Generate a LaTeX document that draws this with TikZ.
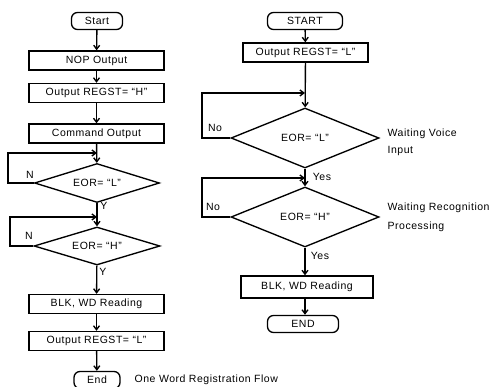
\documentclass[tikz,border=0pt]{standalone}
\usepackage{fontspec}
\setmainfont{Liberation Sans}[LetterSpace=5]
\usetikzlibrary{shapes.geometric,arrows.meta}
\begin{document}
\begin{tikzpicture}[x=1pt,y=-1pt,
  font=\fontsize{10.5}{12}\selectfont,
  line width=1.35pt,
  proc/.style={draw, minimum width=135pt, minimum height=19pt, inner sep=0pt},
  term/.style={draw, rounded corners=6pt, minimum height=17pt, inner sep=0pt},
  dec/.style={draw, diamond, inner sep=0pt},
  arr/.style={-{Straight Barb[length=4pt,width=6pt]}},
  lbl/.style={inner sep=0pt},
  side/.style={inner sep=0pt, anchor=west}]
\useasboundingbox (0,0) rectangle (499,387);
% ---------- left flow ----------
\node[term, minimum width=51pt] (s) at (97,21) {Start};
\node[proc] (nop) at (96.5,60.5) {NOP Output};
\node[proc] (regh) at (96.5,93) {Output REGST= “H”};
\node[proc] (cmd) at (96.5,133.5) {Command Output};
\node[dec, aspect=3.2, minimum width=125pt, minimum height=39pt] (d1) at (97,183) {EOR= “L”};
\node[dec, aspect=3.3, minimum width=126pt, minimum height=38pt] (d2) at (97,246) {EOR= “H”};
\node[proc] (blk) at (96.5,304) {BLK, WD Reading};
\node[proc] (regl) at (96.5,341) {Output REGST= “L”};
\node[term, minimum width=46pt] (e) at (97,380) {End};
\coordinate (j1) at (97,153);
\coordinate (l1) at (8,153);
\coordinate (j2) at (97,217);
\coordinate (l2) at (10,217);
\draw[arr] (s) -- (nop);
\draw[arr] (nop) -- (regh);
\draw[arr] (regh) -- (cmd);
\draw[arr] (cmd) -- (d1);
\draw[arr] (d1.west) -| (l1) -- (j1);
\draw[arr] (d1) -- (d2);
\draw[arr] (d2.west) -| (l2) -- (j2);
\draw[arr] (d2) -- (blk);
\draw[arr] (blk) -- (regl);
\draw[arr] (regl) -- (e);
\node[lbl] (n1) at (30,175) {N};
\node[lbl] (y1) at (104,206) {Y};
\node[lbl] (n2) at (29,236) {N};
\node[lbl] (y2) at (103,272) {Y};
\node[side] (cap) at (134,380) {One Word Registration Flow};
% ---------- right flow ----------
\node[term, minimum width=75pt] (S) at (305,21) {START};
\node[proc, minimum width=125pt] (rl) at (305.5,52.5) {Output REGST= “L”};
\node[dec, aspect=2.47, minimum width=148pt, minimum height=60pt] (r1) at (305,138) {EOR= “L”};
\node[dec, aspect=2.47, minimum width=148pt, minimum height=60pt] (r2) at (305,217) {EOR= “H”};
\node[proc, minimum width=132pt, minimum height=22pt] (rb) at (307,287) {BLK, WD Reading};
\node[term, minimum width=71pt] (E) at (303,324) {END};
\coordinate (j3) at (305,93);
\coordinate (l3) at (202,93);
\coordinate (j4) at (305,178);
\coordinate (l4) at (202,178);
\draw[arr] (S) -- (rl);
\draw[arr] (rl) -- (r1);
\draw[arr] (r1.west) -| (l3) -- (j3);
\draw[arr] (r1) -- (r2);
\draw[arr] (r2.west) -| (l4) -- (j4);
\draw[arr] (r2.south) -- (r2.south |- rb.north);
\draw[arr] (r2.south |- rb.south) -- (r2.south |- E.north);
\node[lbl] (no1) at (215,128) {No};
\node[lbl] (ye1) at (322,177) {Yes};
\node[lbl] (no2) at (213,207) {No};
\node[lbl] (ye2) at (320,256) {Yes};
\node[side] (w1) at (387,134) {Waiting Voice};
\node[side] (w1b) at (387,151) {Input};
\node[side] (w2) at (387,208) {Waiting Recognition};
\node[side] (w2b) at (387,227) {Processing};
\end{tikzpicture}
\end{document}
